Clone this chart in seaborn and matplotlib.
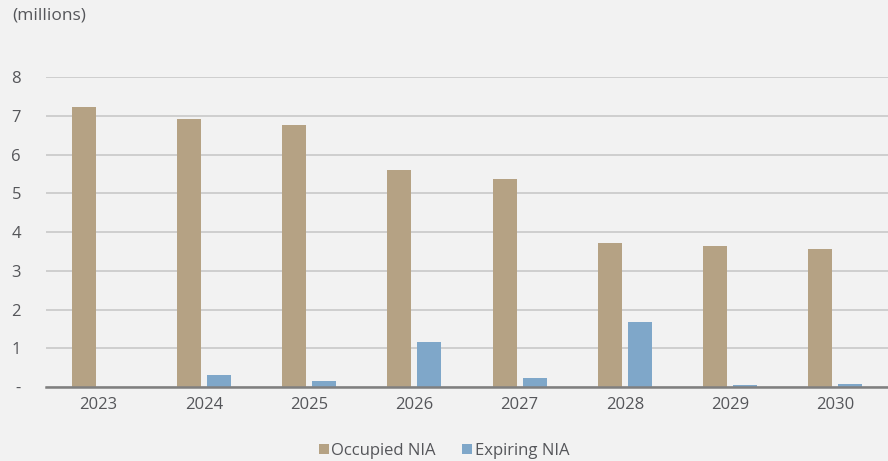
import matplotlib
matplotlib.use("Agg")
import matplotlib.pyplot as plt
import seaborn as sns
import pandas as pd
from matplotlib.patches import Patch

years = ["2023", "2024", "2025", "2026", "2027", "2028", "2029", "2030"]
occupied = [7.23, 6.92, 6.76, 5.60, 5.37, 3.72, 3.64, 3.56]
expiring = [0.01, 0.31, 0.15, 1.16, 0.23, 1.68, 0.06, 0.09]
series_names = ["Occupied NIA", "Expiring NIA"]
ytick_vals = [0, 1, 2, 3, 4, 5, 6, 7, 8]
ytick_labels = ["-", "1", "2", "3", "4", "5", "6", "7", "8"]

df = pd.DataFrame({
    "year": years * 2,
    "value": occupied + expiring,
    "series": [series_names[0]] * len(years) + [series_names[1]] * len(years),
})

bg = "#f2f2f2"
colors = ["#b5a284", "#7fa7c9"]
txt = "#55565a"

sns.set_theme(style="white")
plt.rcParams["font.family"] = ["Open Sans", "DejaVu Sans"]

fig = plt.figure(figsize=(8.88, 4.61), dpi=100, facecolor=bg)
ax = fig.add_axes([46 / 888, 1 - 387 / 461, 842 / 888, 310 / 461])
ax.set_facecolor(bg)

sns.barplot(data=df, x="year", y="value", hue="series", palette=colors,
            width=0.57, gap=0.2, ax=ax, legend=False, saturation=1,
            edgecolor="none", zorder=3)

ax.set_ylim(0, 8)
ax.set_xlim(-0.5, len(years) - 0.5)
ax.set_yticks(ytick_vals)
ax.set_yticklabels(ytick_labels)
ax.yaxis.grid(True, color="#c9c9c9", linewidth=1.2, zorder=0)
ax.set_axisbelow(True)
for s in ["top", "right", "left"]:
    ax.spines[s].set_visible(False)
ax.spines["bottom"].set_color("#7f7f7f")
ax.spines["bottom"].set_linewidth(1.8)
ax.spines["bottom"].set_zorder(4)
ax.tick_params(axis="both", length=0, labelsize=12, colors=txt)
ax.tick_params(axis="y", pad=18)
ax.tick_params(axis="x", pad=7)
ax.set_xlabel("")
ax.set_ylabel("")

fig.text(12 / 888, 1 - 15 / 461, "(millions)", fontsize=12.5, color=txt,
         ha="left", va="center")

handles = [Patch(facecolor=c, edgecolor="none") for c in colors]
fig.legend(handles, series_names, loc="center", bbox_to_anchor=(0.5, 1 - 451 / 461),
           ncol=2, frameon=False, fontsize=12, labelcolor=txt,
           handlelength=0.6, handleheight=0.6, handletextpad=0.15, columnspacing=1.6)

fig.savefig("out.png", dpi=100, facecolor=bg)
